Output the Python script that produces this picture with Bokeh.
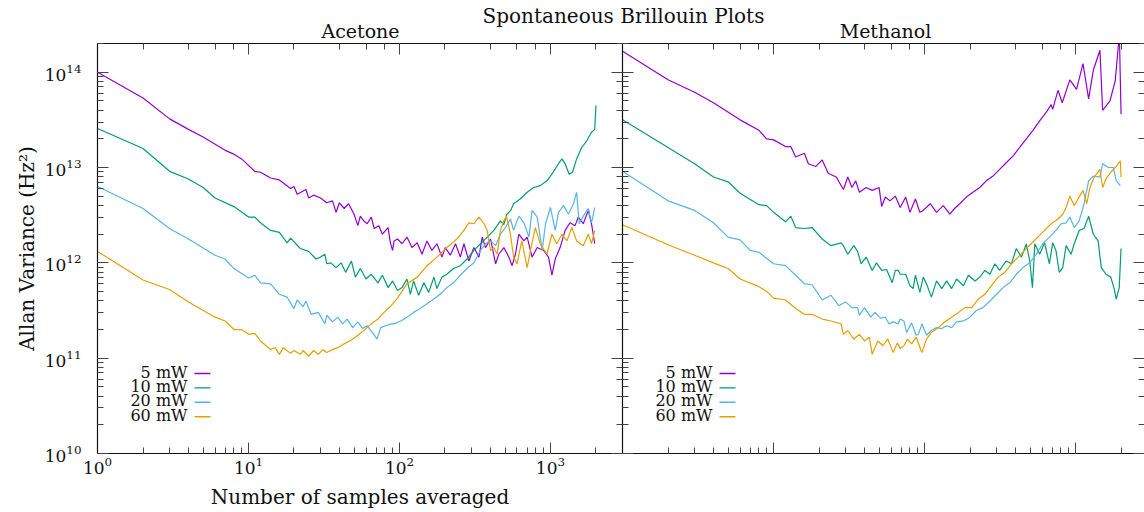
from bokeh.plotting import figure
from bokeh.layouts import column, row
from bokeh.models import (LogAxis, LogTicker, Range1d, Label, Arrow,
                          CustomJSTickFormatter)
from bokeh.embed import file_html
from bokeh.resources import INLINE

SERIF = "DejaVu Serif"

powers = ["5 mW", "10 mW", "20 mW", "60 mW"]
colors = ["#9400D3", "#009E73", "#56B4E9", "#E69F00"]

# Allan variance (Hz^2), stored as log10 of the value, vs number of samples averaged
acetone_5mw_n = [1, 2, 3, 4, 5, 7, 8, 9, 11, 12, 14, 16, 19, 20, 21, 24, 25, 27, 30, 33, 36, 38, 40, 43,
                 46, 50, 53, 55, 58, 61, 65, 68, 73, 77, 84, 87, 90, 92, 97, 104, 112, 121, 131, 141,
                 152, 164, 177, 191, 201, 217, 235, 253, 267, 288, 311, 336, 353, 371, 401, 433, 455,
                 491, 530, 557, 586, 617, 667, 701, 755, 817, 901, 971, 1022, 1075, 1159, 1250, 1348,
                 1455, 1530, 1650, 1780, 1870, 1965]
acetone_5mw_log10 = [14.00, 13.73, 13.51, 13.40, 13.32, 13.18, 13.14, 13.09, 12.96, 12.95, 12.89, 12.87,
                     12.78, 12.80, 12.72, 12.77, 12.68, 12.71, 12.68, 12.63, 12.65, 12.53, 12.63, 12.57,
                     12.62, 12.51, 12.39, 12.49, 12.44, 12.41, 12.48, 12.36, 12.39, 12.30, 12.37, 12.21,
                     12.13, 12.23, 12.25, 12.20, 12.27, 12.16, 12.21, 12.09, 12.23, 12.13, 12.20, 12.06,
                     12.16, 12.08, 12.20, 12.06, 12.20, 12.02, 12.16, 12.06, 12.27, 12.16, 12.25, 11.99,
                     12.09, 12.16, 12.06, 11.97, 12.09, 12.30, 12.23, 12.27, 12.06, 12.16, 12.13, 12.06,
                     11.87, 12.04, 12.16, 12.34, 12.42, 12.39, 12.48, 12.41, 12.55, 12.41, 12.20]

acetone_10mw_n = [1, 2, 3, 4, 5, 6, 8, 10, 11, 12, 14, 16, 18, 19, 22, 25, 28, 30, 32, 33, 35, 38, 41,
                  44, 48, 51, 55, 60, 65, 72, 77, 84, 90, 97, 104, 112, 118, 124, 134, 145, 156, 169,
                  177, 191, 206, 228, 253, 280, 311, 344, 381, 422, 466, 490, 515, 545, 570, 630, 701,
                  774, 856, 947, 1022, 1130, 1191, 1250, 1330, 1400, 1490, 1610, 1740, 1870, 1965, 2000]
acetone_10mw_log10 = [13.41, 13.20, 12.96, 12.88, 12.79, 12.68, 12.59, 12.48, 12.48, 12.42, 12.34, 12.32,
                      12.21, 12.26, 12.15, 12.12, 12.04, 12.06, 12.09, 11.99, 12.00, 11.95, 12.00, 11.90,
                      12.02, 11.85, 11.94, 11.83, 11.88, 11.79, 11.87, 11.74, 11.81, 11.71, 11.74, 11.83,
                      11.67, 11.81, 11.66, 11.79, 11.69, 11.85, 11.73, 11.85, 11.88, 11.94, 11.97, 12.04,
                      12.13, 12.20, 12.27, 12.34, 12.44, 12.40, 12.51, 12.55, 12.62, 12.67, 12.74, 12.79,
                      12.81, 12.86, 12.93, 13.04, 13.09, 13.04, 12.93, 12.95, 13.09, 13.21, 13.28, 13.37,
                      13.40, 13.65]

acetone_20mw_n = [1, 2, 3, 4, 6, 7, 8, 10, 11, 12, 14, 16, 18, 20, 21, 23, 24, 26, 29, 32, 33, 36, 39,
                  42, 45, 49, 53, 57, 61, 66, 71, 75, 81, 88, 92, 102, 112, 124, 137, 152, 169, 186,
                  206, 228, 253, 280, 311, 344, 371, 401, 433, 466, 503, 543, 570, 617, 667, 720, 755,
                  817, 882, 927, 1000, 1075, 1130, 1220, 1315, 1420, 1490, 1550, 1650, 1780, 1870, 1965]
acetone_20mw_log10 = [12.80, 12.57, 12.36, 12.25, 12.08, 12.04, 11.94, 11.84, 11.87, 11.79, 11.78, 11.67,
                      11.64, 11.52, 11.61, 11.54, 11.60, 11.46, 11.48, 11.36, 11.45, 11.38, 11.43, 11.36,
                      11.41, 11.32, 11.38, 11.31, 11.34, 11.27, 11.20, 11.32, 11.34, 11.36, 11.36, 11.39,
                      11.43, 11.48, 11.52, 11.57, 11.62, 11.67, 11.74, 11.79, 11.87, 11.94, 12.00, 12.13,
                      12.20, 12.23, 12.18, 12.30, 12.37, 12.46, 12.34, 12.49, 12.42, 12.27, 12.55, 12.48,
                      12.13, 12.41, 12.58, 12.34, 12.53, 12.60, 12.51, 12.62, 12.74, 12.41, 12.49, 12.57,
                      12.42, 12.58]

acetone_60mw_n = [1, 2, 3, 4, 6, 7, 8, 9, 10, 11, 12, 14, 15, 16, 17, 19, 20, 22, 23, 25, 27, 29, 31,
                  33, 36, 39, 43, 48, 53, 58, 65, 72, 79, 88, 97, 112, 131, 152, 177, 206, 240, 267,
                  288, 311, 336, 363, 381, 401, 422, 444, 466, 491, 511, 543, 570, 600, 646, 701, 737,
                  794, 856, 947, 1022, 1100, 1191, 1285, 1385, 1490, 1650, 1780, 1870, 1965]
acetone_60mw_log10 = [12.12, 11.82, 11.72, 11.59, 11.43, 11.39, 11.30, 11.30, 11.25, 11.26, 11.18, 11.09,
                      11.11, 11.04, 11.11, 11.05, 11.08, 11.04, 11.08, 11.02, 11.08, 11.04, 11.09, 11.06,
                      11.09, 11.11, 11.15, 11.19, 11.24, 11.29, 11.36, 11.41, 11.48, 11.55, 11.63, 11.78,
                      11.85, 11.97, 12.06, 12.16, 12.25, 12.34, 12.42, 12.41, 12.48, 12.41, 12.34, 12.13,
                      12.16, 12.09, 12.34, 12.44, 12.49, 12.30, 12.06, 11.99, 12.23, 11.95, 12.13, 12.37,
                      12.20, 12.09, 12.30, 12.20, 12.30, 12.23, 12.37, 12.23, 12.18, 12.30, 12.20, 12.34]

methanol_5mw_n = [1, 2, 3, 4, 6, 8, 9, 10, 12, 13, 14, 16, 17, 19, 21, 23, 26, 29, 31, 33, 35, 37, 41,
                  45, 50, 52, 55, 59, 64, 69, 75, 80, 87, 93, 98, 109, 120, 133, 147, 158, 171, 189,
                  209, 232, 256, 284, 314, 347, 385, 426, 472, 522, 578, 640, 689, 705, 765, 816, 916,
                  1015, 1120, 1220, 1310, 1450, 1510, 1690, 1830, 1950, 2000]
methanol_5mw_log10 = [14.22, 13.92, 13.79, 13.68, 13.50, 13.39, 13.30, 13.29, 13.22, 13.22, 13.11, 13.15,
                      13.04, 13.01, 13.08, 12.94, 12.90, 12.77, 12.90, 12.79, 12.86, 12.74, 12.79, 12.76,
                      12.79, 12.59, 12.69, 12.65, 12.70, 12.58, 12.69, 12.53, 12.67, 12.53, 12.55, 12.62,
                      12.53, 12.60, 12.51, 12.57, 12.62, 12.69, 12.74, 12.79, 12.86, 12.91, 12.98, 13.05,
                      13.12, 13.21, 13.30, 13.39, 13.49, 13.58, 13.66, 13.61, 13.81, 13.68, 13.92, 13.82,
                      14.09, 13.72, 14.02, 14.23, 13.60, 13.70, 13.91, 14.40, 13.56]

methanol_10mw_n = [1, 2, 3, 4, 5, 6, 8, 9, 10, 12, 13, 14, 16, 18, 21, 24, 28, 29, 31, 34, 36, 38, 41,
                   45, 48, 52, 56, 61, 64, 67, 69, 75, 80, 84, 87, 93, 98, 103, 111, 120, 130, 140, 151,
                   163, 181, 195, 216, 232, 251, 271, 292, 314, 347, 376, 405, 438, 472, 497, 518, 537,
                   578, 623, 671, 705, 741, 780, 822, 866, 933, 980, 1056, 1138, 1220, 1310, 1410, 1480,
                   1590, 1710, 1800, 1860, 1945, 2000]
methanol_10mw_log10 = [13.50, 13.21, 13.04, 12.90, 12.85, 12.73, 12.61, 12.60, 12.53, 12.43, 12.49, 12.37,
                       12.36, 12.37, 12.25, 12.18, 12.21, 12.18, 12.09, 12.18, 12.12, 11.99, 12.06, 11.92,
                       12.00, 11.92, 11.93, 11.79, 11.92, 11.92, 11.88, 11.88, 11.76, 11.73, 11.87, 11.69,
                       11.85, 11.78, 11.64, 11.81, 11.73, 11.81, 11.73, 11.83, 11.76, 11.87, 11.81, 11.85,
                       11.92, 11.88, 11.99, 11.92, 12.02, 11.99, 12.15, 12.06, 12.20, 12.02, 11.74, 12.20,
                       12.09, 12.21, 11.99, 12.21, 12.13, 11.90, 11.95, 12.18, 12.09, 12.20, 12.34, 12.36,
                       12.49, 12.30, 12.23, 11.95, 11.88, 11.85, 11.73, 11.62, 11.74, 12.15]

methanol_20mw_n = [1, 2, 3, 4, 5, 6, 7, 8, 10, 12, 14, 16, 18, 21, 24, 27, 30, 33, 36, 37, 40, 44, 47,
                   51, 55, 58, 62, 67, 69, 73, 76, 82, 88, 91, 96, 103, 111, 120, 130, 140, 151, 163,
                   181, 200, 220, 244, 271, 300, 331, 366, 405, 448, 497, 549, 607, 671, 741, 803, 866,
                   916, 980, 1056, 1138, 1220, 1310, 1450, 1510, 1650, 1780, 1860, 1980]
methanol_20mw_log10 = [12.96, 12.65, 12.55, 12.42, 12.27, 12.24, 12.13, 12.11, 11.99, 11.97, 11.87, 11.78,
                       11.77, 11.61, 11.66, 11.55, 11.59, 11.53, 11.53, 11.45, 11.53, 11.43, 11.48, 11.42,
                       11.43, 11.36, 11.38, 11.36, 11.41, 11.39, 11.27, 11.37, 11.24, 11.25, 11.36, 11.24,
                       11.29, 11.32, 11.31, 11.34, 11.32, 11.38, 11.39, 11.43, 11.50, 11.53, 11.60, 11.67,
                       11.74, 11.79, 11.88, 11.95, 12.00, 12.09, 12.20, 12.27, 12.34, 12.41, 12.42, 12.48,
                       12.37, 12.44, 12.62, 12.86, 12.91, 12.90, 13.04, 13.00, 13.00, 12.86, 12.81]

methanol_60mw_n = [1, 2, 3, 4, 5, 6, 8, 9, 10, 12, 14, 16, 18, 21, 24, 28, 29, 31, 34, 37, 40, 43, 45,
                   49, 53, 57, 62, 66, 69, 73, 77, 82, 88, 96, 103, 111, 123, 136, 151, 168, 185, 205,
                   227, 251, 277, 307, 340, 376, 416, 460, 508, 562, 623, 689, 765, 822, 866, 916, 980,
                   1056, 1120, 1185, 1245, 1330, 1450, 1510, 1590, 1710, 1830, 1980, 2000]
methanol_60mw_log10 = [12.40, 12.19, 12.08, 12.00, 11.94, 11.83, 11.75, 11.70, 11.63, 11.61, 11.52, 11.46,
                       11.46, 11.41, 11.39, 11.36, 11.25, 11.29, 11.20, 11.25, 11.18, 11.22, 11.04, 11.18,
                       11.13, 11.20, 11.06, 11.16, 11.10, 11.13, 11.20, 11.15, 11.22, 11.06, 11.20, 11.27,
                       11.32, 11.38, 11.43, 11.48, 11.53, 11.53, 11.62, 11.67, 11.76, 11.85, 11.90, 11.99,
                       12.06, 12.13, 12.20, 12.27, 12.34, 12.41, 12.46, 12.51, 12.58, 12.70, 12.60, 12.69,
                       12.76, 12.62, 12.79, 12.90, 12.98, 12.79, 12.88, 12.95, 13.00, 13.07, 12.90]

acetone = [(acetone_5mw_n, acetone_5mw_log10), (acetone_10mw_n, acetone_10mw_log10),
           (acetone_20mw_n, acetone_20mw_log10), (acetone_60mw_n, acetone_60mw_log10)]
methanol = [(methanol_5mw_n, methanol_5mw_log10), (methanol_10mw_n, methanol_10mw_log10),
            (methanol_20mw_n, methanol_20mw_log10), (methanol_60mw_n, methanol_60mw_log10)]

FRAME_H = 410
BOTTOM = 59
AXIS_COLOR = "#111111"
TICK_COLOR = "#444444"


def style_axis(ax, labelled):
    ax.axis_line_color = AXIS_COLOR
    ax.axis_line_width = 1.2
    ax.major_tick_line_color = TICK_COLOR
    ax.minor_tick_line_color = TICK_COLOR
    ax.major_tick_in = 11
    ax.major_tick_out = 0
    ax.minor_tick_in = 6
    ax.minor_tick_out = 0
    if labelled:
        ax.major_label_text_font = SERIF
        ax.major_label_text_font_size = "17px"
        ax.major_label_text_color = "#111111"
        ax.axis_label_text_font = SERIF
        ax.axis_label_text_font_size = "20px"
        ax.axis_label_text_font_style = "normal"
        ax.axis_label_text_color = "#111111"
    else:
        ax.formatter = CustomJSTickFormatter(code="return ''")
        ax.major_label_text_font_size = "0px"
        ax.major_label_standoff = 0


def make_panel(series, width, x_end, border_left, labelled):
    p = figure(width=width, height=FRAME_H + BOTTOM,
               x_axis_type="log", y_axis_type="log",
               x_range=Range1d(0.999, x_end), y_range=Range1d(9.99e9, 2e14),
               output_backend="svg", toolbar_location=None, title_location=None,
               min_border_left=border_left, min_border_right=0,
               min_border_top=0, min_border_bottom=BOTTOM)
    p.outline_line_color = None
    p.grid.visible = False
    p.background_fill_color = "white"
    p.border_fill_color = "white"

    top_axis = LogAxis(ticker=LogTicker())
    right_axis = LogAxis(ticker=LogTicker())
    p.add_layout(top_axis, "above")
    p.add_layout(right_axis, "right")
    bottom_axis = p.below[0]
    left_axis = p.left[0]

    style_axis(bottom_axis, labelled)
    style_axis(left_axis, labelled)
    style_axis(top_axis, False)
    style_axis(right_axis, False)
    if not labelled:
        # the far right edge of the last panel sits just outside the page
        right_axis.axis_line_color = None

    if labelled:
        bottom_axis.axis_label = "Number of samples averaged"
        bottom_axis.major_label_standoff = 3
        bottom_axis.axis_label_standoff = 8
        left_axis.axis_label = "Allan Variance (Hz²)"
        left_axis.major_label_standoff = 16
        left_axis.axis_label_standoff = 3

    for (n, logv), color in zip(series, colors):
        p.line(n, [10 ** v for v in logv], line_color=color, line_width=1.2)

    # legend: right-aligned labels followed by a short line sample
    for i, (name, color) in enumerate(zip(powers, colors)):
        base = 81.5 - 14.4 * i
        p.add_layout(Label(x=90, y=base, x_units="screen", y_units="screen",
                           text=name, text_align="right", text_baseline="alphabetic",
                           text_font=SERIF, text_font_size="16px", text_color="#111111"))
        p.add_layout(Arrow(x_start=97, y_start=base - 1.5, x_end=113, y_end=base - 1.5,
                           start_units="screen", end_units="screen", end=None,
                           line_color=color, line_width=1.4))
    return p


left = make_panel(acetone, 622, 3000, 97, True)
right = make_panel(methanol, 522, 2860, 0, False)

head = figure(width=1144, height=43, x_range=Range1d(0, 1144), y_range=Range1d(0, 43),
              output_backend="svg", toolbar_location=None, title_location=None, min_border=0,
              x_axis_location=None, y_axis_location=None)
head.outline_line_color = None
head.grid.visible = False
head.add_layout(Label(x=623, y=28, text="Spontaneous Brillouin Plots", text_align="center",
                      text_baseline="alphabetic", text_font=SERIF, text_font_size="20px",
                      text_color="#111111"))
head.add_layout(Label(x=360, y=13, text="Acetone", text_align="center",
                      text_baseline="alphabetic", text_font=SERIF, text_font_size="19px",
                      text_color="#111111"))
head.add_layout(Label(x=885, y=13, text="Methanol", text_align="center",
                      text_baseline="alphabetic", text_font=SERIF, text_font_size="19px",
                      text_color="#111111"))

layout = column(head, row(left, right, spacing=0), spacing=0)

with open("out.html", "w") as f:
    f.write(file_html(layout, INLINE, title="Spontaneous Brillouin Plots"))
